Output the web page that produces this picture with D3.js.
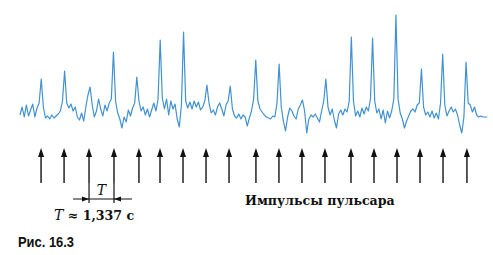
<!DOCTYPE html>
<html>
<head>
<meta charset="utf-8">
<script src="https://cdn.jsdelivr.net/npm/d3@7"></script>
<style>
    body { margin: 0; background: #fff; }
</style>
</head>
<body>
<div id="app"></div>
<script>
// radio signal, one sample every 0.12 s (arbitrary intensity units)
const sampleStep = 0.12;
const signal = [
    -2, 6, -4, 8, -3, 3, 9, -4, 5, 10,
    34, 6, -5, -3, -6, -2, -5, -3, -1, 2,
    12, 42, 10, 5, 9, 2, 6, -4, -7, 0,
    -8, 6, 18, 26, 8, -4, 2, 14, 4, -3,
    8, 2, 10, 14, 61, 12, 0, -6, -15, -4,
    -9, 3, -3, 5, 10, 36, 12, 2, 6, -2,
    4, -4, 3, 10, 2, 14, 73, 15, 4, 14,
    -2, 12, 4, 9, -6, -14, 8, 81, 12, 5,
    11, 4, 12, 6, 11, 3, 6, 12, 28, 10,
    0, 3, -2, 6, 10, 4, -3, 8, 12, 27,
    4, -3, -5, -1, -6, -2, -4, -13, -5, 2,
    14, 53, 12, 4, 1, -2, -4, -5, -6, -3,
    -4, 10, 49, 6, -8, -18, -4, 5, 2, -3,
    -6, 4, 8, 13, 2, -20, -6, -2, -4, -1,
    -5, -9, 2, 12, 34, 6, -2, 4, -7, -15,
    -1, 3, -2, 4, 1, 12, 76, 12, -3, 2,
    -4, 5, -1, 6, 2, 14, 75, 12, 0, 4,
    -6, 3, -10, 2, -5, 2, 14, 98, 14, 0,
    -6, -15, -8, -3, 2, 4, 1, 8, 10, 44,
    6, -2, 1, -4, 2, -5, 0, -6, 10, 59,
    8, -3, 2, 6, 1, 4, -2, -12, -20, -4,
    51, 10, 8, 1, 6, -2, -4, -3, -4, -4,
    -4
];

// times of the pulses (s), marked by the arrows
const pulseTimes = [1.19, 2.49, 3.90, 5.31, 6.72, 7.91, 9.21, 10.51, 11.81, 13.33,
                    14.63, 15.93, 17.23, 18.70, 20.00, 21.30, 22.60, 23.90, 25.25];

// pulses used for the period bracket
const periodPair = [2, 3];
const periodLabel = "T";
const periodText = ["T", " ≈ 1,337 с"];
const pulsesLabel = "Импульсы пульсара";
const figLabel = "Рис. 16.3";

let width = 493;
let height = 255;
let serif = "'DejaVu Serif', serif";

let svg = d3.select("#app")
    .append("svg")
        .attr("width", width)
        .attr("height", height);

// scales
let tMax = (signal.length - 1) * sampleStep;
let x = d3.scaleLinear()
    .domain([0, tMax])
    .range([20, 20 + tMax * 17.7]);

let y = d3.scaleLinear()
    .domain([0, 100])
    .range([113, 13]);

// signal line
let line = d3.line()
    .x((d, i) => x(i * sampleStep))
    .y(d => y(d));

svg.append("path")
    .datum(signal)
    .attr("d", line)
    .attr("fill", "none")
    .attr("stroke", "#4192d2")
    .attr("stroke-width", 1.2)
    .attr("stroke-linejoin", "round");

// arrows under every pulse
let arrowTop = 148;
let arrowBottom = 183;

let arrows = svg.append("g").attr("class", "arrows");
arrows.selectAll("line")
    .data(pulseTimes)
    .enter()
    .append("line")
        .attr("x1", d => x(d))
        .attr("x2", d => x(d))
        .attr("y1", arrowBottom)
        .attr("y2", arrowTop + 5)
        .attr("stroke", "#111")
        .attr("stroke-width", 1.4);

arrows.selectAll("path")
    .data(pulseTimes)
    .enter()
    .append("path")
        .attr("d", d => `M${x(d) - 3},${arrowTop + 9}L${x(d)},${arrowTop}L${x(d) + 3},${arrowTop + 9}Z`)
        .attr("fill", "#111");

// period bracket
let xa = x(pulseTimes[periodPair[0]]);
let xb = x(pulseTimes[periodPair[1]]);
let by = 199;
let br = svg.append("g").attr("class", "bracket");

br.selectAll("line.tick")
    .data([xa, xb])
    .enter()
    .append("line")
        .attr("class", "tick")
        .attr("x1", d => d)
        .attr("x2", d => d)
        .attr("y1", arrowBottom)
        .attr("y2", 203)
        .attr("stroke", "#111")
        .attr("stroke-width", 1.2);

br.append("line")
    .attr("x1", xa - 16)
    .attr("x2", xb + 18)
    .attr("y1", by)
    .attr("y2", by)
    .attr("stroke", "#111")
    .attr("stroke-width", 1.1);

br.append("path")
    .attr("d", `M${xa - 7},${by - 2.5}L${xa},${by}L${xa - 7},${by + 2.5}Z`)
    .attr("fill", "#111");
br.append("path")
    .attr("d", `M${xb + 7},${by - 2.5}L${xb},${by}L${xb + 7},${by + 2.5}Z`)
    .attr("fill", "#111");

br.append("text")
    .attr("x", (xa + xb) / 2)
    .attr("y", 195)
    .attr("text-anchor", "middle")
    .style("font-family", serif)
    .style("font-style", "italic")
    .style("font-size", "14px")
    .attr("fill", "#111")
    .text(periodLabel);

// T ≈ 1,337 c
let pt = svg.append("text")
    .attr("x", 54)
    .attr("y", 220)
    .style("font-family", serif)
    .style("font-size", "12.6px")
    .style("font-weight", "bold")
    .attr("fill", "#111");
pt.append("tspan")
    .style("font-style", "italic")
    .style("font-weight", "normal")
    .style("font-size", "14px")
    .text(periodText[0]);
pt.append("tspan").text(periodText[1]);

svg.append("text")
    .attr("x", 245)
    .attr("y", 205)
    .style("font-family", serif)
    .style("font-size", "12.6px")
    .style("font-weight", "bold")
    .attr("fill", "#111")
    .text(pulsesLabel);

svg.append("text")
    .attr("x", 18)
    .attr("y", 247)
    .attr("textLength", 56)
    .attr("lengthAdjust", "spacingAndGlyphs")
    .style("font-family", "'Liberation Sans', Arial, sans-serif")
    .style("font-size", "15px")
    .style("font-weight", "bold")
    .attr("fill", "#111")
    .text(figLabel);
</script>
</body>
</html>
